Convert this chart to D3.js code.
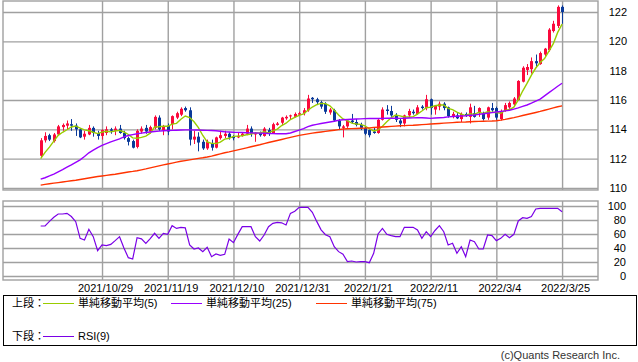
<!DOCTYPE html>
<html>
<head>
<meta charset="utf-8">
<script src="https://cdn.jsdelivr.net/npm/d3@7"></script>
<style>
  body { margin: 0; background: #fff; }
</style>
</head>
<body>
<div id="chart"></div>

<script>
// trading days shown on the chart
const dates = [
  "2021/10/11","2021/10/12","2021/10/13","2021/10/14","2021/10/15","2021/10/18","2021/10/19","2021/10/20","2021/10/21","2021/10/22",
  "2021/10/25","2021/10/26","2021/10/27","2021/10/28","2021/10/29","2021/11/1","2021/11/2","2021/11/3","2021/11/4","2021/11/5",
  "2021/11/8","2021/11/9","2021/11/10","2021/11/11","2021/11/12","2021/11/15","2021/11/16","2021/11/17","2021/11/18","2021/11/19",
  "2021/11/22","2021/11/23","2021/11/24","2021/11/25","2021/11/26","2021/11/29","2021/11/30","2021/12/1","2021/12/2","2021/12/3",
  "2021/12/6","2021/12/7","2021/12/8","2021/12/9","2021/12/10","2021/12/13","2021/12/14","2021/12/15","2021/12/16","2021/12/17",
  "2021/12/20","2021/12/21","2021/12/22","2021/12/23","2021/12/24","2021/12/27","2021/12/28","2021/12/29","2021/12/30","2021/12/31",
  "2022/1/3","2022/1/4","2022/1/5","2022/1/6","2022/1/7","2022/1/10","2022/1/11","2022/1/12","2022/1/13","2022/1/14",
  "2022/1/17","2022/1/18","2022/1/19","2022/1/20","2022/1/21","2022/1/24","2022/1/25","2022/1/26","2022/1/27","2022/1/28",
  "2022/1/31","2022/2/1","2022/2/2","2022/2/3","2022/2/4","2022/2/7","2022/2/8","2022/2/9","2022/2/10","2022/2/11",
  "2022/2/14","2022/2/15","2022/2/16","2022/2/17","2022/2/18","2022/2/21","2022/2/22","2022/2/23","2022/2/24","2022/2/25",
  "2022/2/28","2022/3/1","2022/3/2","2022/3/3","2022/3/4","2022/3/7","2022/3/8","2022/3/9","2022/3/10","2022/3/11",
  "2022/3/14","2022/3/15","2022/3/16","2022/3/17","2022/3/18","2022/3/21","2022/3/22","2022/3/23","2022/3/24","2022/3/25"
];

const open = [
  112.20,113.25,113.60,113.20,113.65,114.15,114.25,114.35,114.25,114.00,
  113.50,113.65,114.10,113.75,113.55,113.75,114.00,113.90,114.05,113.75,
  113.40,113.20,112.80,113.85,114.10,113.85,114.10,114.80,113.95,114.25,
  114.35,114.80,115.00,115.45,115.30,113.30,113.50,113.15,112.70,113.05,
  112.75,113.40,113.55,113.70,113.50,113.45,113.55,113.70,114.05,113.65,
  113.75,113.55,113.95,113.75,114.30,114.45,114.75,114.90,114.85,115.00,
  115.10,115.30,116.15,116.05,115.85,115.75,115.15,115.30,114.60,114.10,
  114.20,114.60,114.50,114.30,114.10,113.95,113.85,113.75,114.65,115.35,
  115.25,114.95,114.60,114.40,114.95,115.20,115.05,115.55,115.45,116.05,
  115.35,115.55,115.75,115.50,114.85,114.95,114.70,115.05,114.85,115.10,
  115.10,115.10,114.80,115.45,115.45,114.70,115.30,115.50,115.70,116.00,
  117.25,118.05,118.10,118.65,118.45,119.10,119.40,120.70,121.05,122.35
];
const high = [
  113.40,113.80,113.70,113.75,114.30,114.40,114.60,114.70,114.40,114.10,
  113.90,114.30,114.20,113.90,114.00,114.20,114.10,114.20,114.30,113.90,
  113.50,113.30,114.00,114.20,114.30,114.25,114.95,114.95,114.30,114.40,
  114.95,115.20,115.50,115.55,115.50,113.90,113.80,113.30,113.30,113.30,
  113.50,113.90,113.90,113.80,113.60,113.80,113.80,114.30,114.20,113.80,
  113.85,114.15,114.10,114.45,114.50,114.85,114.95,115.00,115.15,115.20,
  115.45,116.35,116.20,116.15,115.95,115.85,115.45,115.40,114.70,114.30,
  114.70,115.05,114.70,114.45,114.20,114.00,114.10,114.70,115.50,115.65,
  115.60,115.10,114.75,115.00,115.40,115.35,115.65,115.65,116.35,116.10,
  115.65,115.90,115.85,115.55,115.20,115.10,115.15,115.15,115.75,115.60,
  115.50,115.20,115.55,115.80,115.55,115.35,115.80,115.90,116.20,117.35,
  118.30,118.45,118.90,119.10,119.30,119.55,120.90,121.40,122.45,122.45
];
const low = [
  112.10,113.10,113.20,113.10,113.60,113.90,114.00,113.90,113.55,113.40,
  113.30,113.60,113.50,113.30,113.30,113.60,113.70,113.60,113.70,113.30,
  112.90,112.70,112.70,113.70,113.70,113.70,114.00,113.90,113.60,113.60,
  114.00,114.70,114.90,115.20,112.90,113.00,112.50,112.60,112.60,112.55,
  112.70,113.30,113.40,113.30,113.25,113.40,113.50,113.60,113.50,113.15,
  113.50,113.50,113.55,113.70,114.25,114.30,114.65,114.70,114.80,114.90,
  114.95,115.20,115.80,115.65,115.40,115.05,115.00,114.50,113.95,113.45,
  114.10,114.40,114.20,113.95,113.60,113.45,113.70,113.70,114.60,115.00,
  114.85,114.50,114.15,114.20,114.80,115.00,115.00,115.35,115.30,115.00,
  115.00,115.30,115.30,114.80,114.75,114.70,114.50,114.85,114.40,114.80,
  114.85,114.60,114.65,115.20,114.65,114.60,115.20,115.40,115.60,115.95,
  117.20,117.70,117.80,118.20,118.40,118.95,119.30,120.60,120.90,121.20
];
const close = [
  113.25,113.55,113.30,113.65,114.20,114.30,114.40,114.25,114.00,113.45,
  113.70,114.10,113.75,113.55,113.95,114.00,113.90,114.05,113.75,113.40,
  113.15,112.75,113.90,114.05,113.85,114.15,114.85,114.00,114.20,113.85,
  114.90,115.10,115.40,115.30,113.30,113.50,113.10,112.70,113.15,112.75,
  113.45,113.60,113.70,113.45,113.40,113.55,113.70,114.05,113.70,113.75,
  113.60,114.05,113.70,114.35,114.40,114.80,114.85,114.95,115.05,115.10,
  115.30,116.10,116.05,115.85,115.55,115.20,115.35,114.60,114.20,114.20,
  114.60,114.50,114.30,114.10,113.70,113.60,113.75,114.65,115.35,115.25,
  114.95,114.65,114.40,114.95,115.25,115.10,115.50,115.45,116.05,115.45,
  115.60,115.75,115.45,114.90,115.05,114.75,115.05,114.95,115.50,114.85,
  115.45,114.70,115.50,115.30,114.80,115.20,115.65,115.80,116.10,117.30,
  118.20,118.25,118.65,118.50,119.20,119.50,120.80,121.20,122.35,122.00
];

// moving averages as drawn on the chart
const ma5 = [
  112.00,112.43,112.79,113.20,113.59,113.80,113.97,114.16,114.23,114.08,
  113.96,113.90,113.80,113.71,113.81,113.87,113.83,113.89,113.93,113.82,
  113.65,113.42,113.39,113.45,113.54,113.74,114.16,114.18,114.21,114.21,
  114.36,114.41,114.69,114.91,114.80,114.52,114.12,113.58,113.15,113.04,
  113.03,113.13,113.33,113.39,113.52,113.54,113.56,113.63,113.68,113.75,
  113.76,113.83,113.76,113.89,114.02,114.26,114.42,114.67,114.81,114.95,
  115.05,115.30,115.52,115.68,115.77,115.75,115.60,115.31,114.98,114.71,
  114.59,114.42,114.36,114.34,114.24,114.04,113.89,113.96,114.21,114.52,
  114.79,114.97,114.92,114.84,114.84,114.87,115.04,115.25,115.47,115.51,
  115.61,115.66,115.66,115.43,115.35,115.18,115.04,114.94,115.06,115.02,
  115.16,115.09,115.20,115.16,115.15,115.10,115.29,115.35,115.51,116.01,
  116.61,117.13,117.70,118.18,118.56,118.82,119.33,119.84,120.61,121.17
];
const ma25 = [
  110.60,110.70,110.82,110.95,111.10,111.25,111.42,111.58,111.75,111.92,
  112.15,112.40,112.58,112.75,112.90,113.02,113.14,113.25,113.35,113.48,
  113.58,113.64,113.70,113.74,113.78,113.82,113.85,113.88,113.90,113.92,
  113.93,113.94,113.95,113.96,113.96,113.95,113.95,113.94,113.93,113.92,
  113.90,113.87,113.84,113.82,113.80,113.79,113.78,113.77,113.76,113.75,
  113.74,113.73,113.72,113.71,113.70,113.70,113.70,113.75,113.85,113.95,
  114.05,114.18,114.28,114.34,114.40,114.45,114.50,114.55,114.62,114.65,
  114.67,114.69,114.70,114.71,114.73,114.74,114.74,114.74,114.75,114.76,
  114.76,114.76,114.75,114.76,114.77,114.78,114.79,114.79,114.77,114.75,
  114.77,114.79,114.81,114.85,114.87,114.89,114.91,114.93,114.96,114.98,
  115.02,115.06,115.10,115.14,115.18,115.22,115.26,115.30,115.38,115.46,
  115.56,115.66,115.78,115.92,116.06,116.28,116.50,116.72,116.94,117.14
];
const ma75 = [
  110.20,110.25,110.29,110.33,110.37,110.41,110.45,110.49,110.53,110.58,
  110.63,110.68,110.73,110.78,110.82,110.86,110.90,110.94,110.99,111.04,
  111.09,111.13,111.18,111.24,111.30,111.37,111.44,111.51,111.58,111.64,
  111.70,111.76,111.82,111.87,111.92,111.97,112.02,112.06,112.11,112.17,
  112.25,112.33,112.40,112.46,112.53,112.60,112.67,112.74,112.81,112.88,
  112.95,113.03,113.10,113.17,113.24,113.31,113.38,113.45,113.52,113.59,
  113.64,113.69,113.74,113.78,113.82,113.86,113.90,113.94,113.98,114.02,
  114.04,114.05,114.06,114.07,114.08,114.10,114.12,114.14,114.16,114.18,
  114.20,114.22,114.24,114.25,114.27,114.28,114.30,114.32,114.34,114.36,
  114.38,114.40,114.42,114.44,114.46,114.48,114.49,114.50,114.52,114.53,
  114.54,114.55,114.56,114.57,114.59,114.63,114.68,114.74,114.80,114.87,
  114.94,115.01,115.08,115.15,115.22,115.30,115.38,115.46,115.54,115.60
];
const rsi = [
  71.4,71.4,78.0,84.0,88.6,88.6,89.5,85.0,77.6,53.8,
  51.4,66.7,56.2,36.2,44.3,43.3,45.2,50.5,56.2,40.0,
  26.2,24.3,54.8,53.0,46.7,53.5,61.0,53.8,61.0,59.5,
  71.9,68.0,69.5,68.8,44.3,38.6,40.0,34.8,41.0,27.6,
  31.4,29.5,31.0,52.9,47.6,59.5,70.5,70.5,70.5,56.2,
  50.0,58.6,70.5,75.2,76.7,76.0,72.9,89.5,92.5,98.0,
  98.0,98.0,91.0,78.0,66.0,59.0,56.2,41.9,34.8,31.0,
  20.5,21.4,20.0,20.5,20.5,19.0,32.4,60.0,68.0,59.5,
  57.6,56.2,56.2,69.5,69.5,69.5,65.7,53.8,63.3,56.2,
  65.0,71.9,63.3,44.3,46.7,32.4,41.9,27.6,51.4,49.0,
  38.6,38.6,58.6,57.6,50.5,53.8,59.5,54.8,59.5,78.6,
  83.3,82.4,84.8,95.7,96.7,96.7,96.7,96.7,96.7,91.9
];

const priceTicks = [110, 112, 114, 116, 118, 120, 122];
const rsiTicks = [0, 20, 40, 60, 80, 100];
const tickLabels = ["2021/10/29", "2021/11/19", "2021/12/10", "2021/12/31",
                    "2022/1/21", "2022/2/11", "2022/3/4", "2022/3/25"];
const legendUpper = ["単純移動平均(5)", "単純移動平均(25)", "単純移動平均(75)"];
const legendLower = ["RSI(9)"];

// colours
const upColor = "#fa0a3c", downColor = "#0a3a9a";
const maColors = ["#99cc00", "#9900ff", "#ff3300"];
const rsiColor = "#7a00e6";
const gridColor = "#a0a0a0";

const W = 638, H = 362;
const left = 3, right = 598;

const svg = d3.select("#chart")
  .append("svg")
    .attr("width", W)
    .attr("height", H)
    .style("font-family", "'DejaVu Sans', sans-serif");

const tickIdx = tickLabels.map(function(t) { return dates.indexOf(t); });

const x = d3.scaleLinear().domain([-8.6, 127.2]).range([left, right]);
const y = d3.scaleLinear().domain([110, 122]).range([188, 12]);
const yr = d3.scaleLinear().domain([0, 100]).range([276, 206]);

function styleGrid(g) {
  g.select(".domain").remove();
  g.selectAll(".tick line").attr("stroke", gridColor).attr("stroke-width", 1.4);
  g.selectAll(".tick text").attr("fill", "#000").style("font-size", "11px");
}

// ---- upper panel ----
svg.append("g")
  .attr("transform", `translate(${right},0)`)
  .call(d3.axisRight(y).tickValues(priceTicks).tickSize(-(right - left)).tickPadding(29))
  .call(styleGrid)
  .selectAll(".tick text").attr("text-anchor", "end");

svg.append("g")
  .attr("transform", "translate(0,190)")
  .call(d3.axisBottom(x).tickValues(tickIdx).tickSize(-189).tickFormat(""))
  .call(styleGrid);

svg.append("rect")
  .attr("x", left).attr("y", 1).attr("width", right - left).attr("height", 189)
  .attr("fill", "none").attr("stroke", gridColor).attr("stroke-width", 1.4);

// candles
const candles = svg.append("g").selectAll("g")
  .data(dates)
  .join("g");

candles.append("line")
  .attr("x1", function(d, i) { return Math.round(x(i)) + 0.5; })
  .attr("x2", function(d, i) { return Math.round(x(i)) + 0.5; })
  .attr("y1", function(d, i) { return y(high[i]); })
  .attr("y2", function(d, i) { return y(low[i]); })
  .attr("stroke", function(d, i) { return close[i] >= open[i] ? upColor : downColor; })
  .attr("stroke-width", 1);

candles.append("rect")
  .attr("x", function(d, i) { return Math.round(x(i)) - 1; })
  .attr("width", 3)
  .attr("y", function(d, i) { return y(Math.max(open[i], close[i])); })
  .attr("height", function(d, i) { return Math.max(1, Math.abs(y(open[i]) - y(close[i]))); })
  .attr("fill", function(d, i) { return close[i] >= open[i] ? upColor : downColor; });

// moving averages
[ma5, ma25, ma75].forEach(function(series, k) {
  svg.append("path")
    .datum(series)
    .attr("fill", "none")
    .attr("stroke", maColors[k])
    .attr("stroke-width", 1.4)
    .attr("d", d3.line()
      .x(function(d, i) { return x(i); })
      .y(function(d) { return y(d); })
    );
});

// ---- lower panel (RSI) ----
svg.append("g")
  .attr("transform", `translate(${right},0)`)
  .call(d3.axisRight(yr).tickValues(rsiTicks).tickSize(-(right - left)).tickPadding(28))
  .call(styleGrid)
  .selectAll(".tick text").attr("text-anchor", "end");

svg.append("g")
  .attr("transform", "translate(0,280)")
  .call(d3.axisBottom(x).tickValues(tickIdx).tickSize(-79).tickPadding(4)
    .tickFormat(function(i) { return dates[i]; }))
  .call(styleGrid)
  .selectAll(".tick text").attr("dx", 3);

svg.append("rect")
  .attr("x", left).attr("y", 201).attr("width", right - left).attr("height", 79)
  .attr("fill", "none").attr("stroke", gridColor).attr("stroke-width", 1.4);

svg.append("path")
  .datum(rsi)
  .attr("fill", "none")
  .attr("stroke", rsiColor)
  .attr("stroke-width", 1.2)
  .attr("d", d3.line()
    .x(function(d, i) { return x(i); })
    .y(function(d) { return yr(d); })
  );

// ---- legend ----
const legend = svg.append("g")
  .style("font-family", "'Liberation Sans', 'Noto Sans CJK JP', sans-serif")
  .style("font-size", "11px");

legend.append("rect")
  .attr("x", 3.5).attr("y", 295.5).attr("width", 633).attr("height", 50)
  .attr("fill", "none").attr("stroke", "#000").attr("stroke-width", 1);

legend.append("text").attr("x", 12).attr("y", 307).text("上段：");
legend.append("text").attr("x", 12).attr("y", 340).text("下段：");

const upperX = [43, 171, 316];
legendUpper.forEach(function(label, k) {
  legend.append("line")
    .attr("x1", upperX[k]).attr("x2", upperX[k] + 31)
    .attr("y1", 303.5).attr("y2", 303.5)
    .attr("stroke", maColors[k]).attr("stroke-width", 1);
  legend.append("text").attr("x", upperX[k] + 35).attr("y", 307).text(label);
});

legendLower.forEach(function(label) {
  legend.append("line")
    .attr("x1", 43).attr("x2", 74)
    .attr("y1", 336.5).attr("y2", 336.5)
    .attr("stroke", rsiColor).attr("stroke-width", 1);
  legend.append("text").attr("x", 78).attr("y", 340).text(label);
});

svg.append("text")
  .attr("x", 620).attr("y", 359)
  .attr("text-anchor", "end")
  .style("font-family", "'Liberation Sans', sans-serif")
  .style("font-size", "11px")
  .attr("fill", "#333")
  .text("(c)Quants Research Inc.");
</script>
</body>
</html>
